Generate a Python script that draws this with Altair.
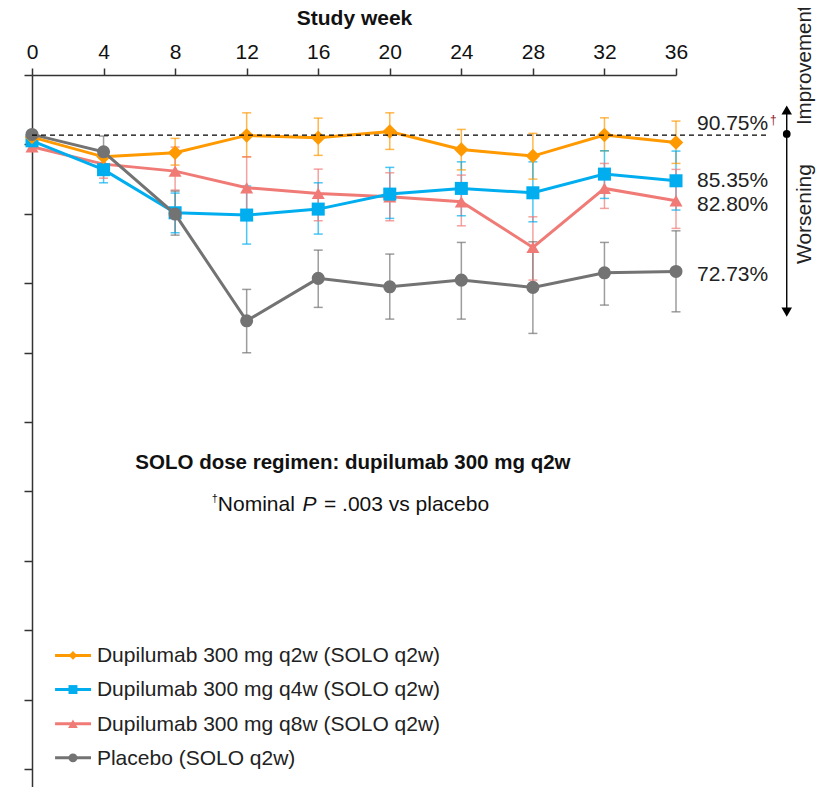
import altair as alt
import pandas as pd

FONT = "Liberation Sans, Arial, Helvetica, sans-serif"

weeks = [0, 4, 8, 12, 16, 20, 24, 28, 32, 36]
series_names = [
    "Dupilumab 300 mg q2w (SOLO q2w)",
    "Dupilumab 300 mg q4w (SOLO q2w)",
    "Dupilumab 300 mg q8w (SOLO q2w)",
    "Placebo (SOLO q2w)",
]
series_colors = ["#FF9900", "#00AEEF", "#F07B76", "#737373"]
series_shapes = ["diamond", "square", "triangle-up", "circle"]

q2w_mean = [91.05, 88.21, 88.79, 91.30, 90.95, 91.87, 89.28, 88.32, 91.34, 90.29]
q2w_hi = [None, 89.40, 90.87, 94.55, 93.79, 94.55, 92.16, 91.59, 93.83, 93.36]
q2w_lo = [None, 87.00, 87.02, 88.21, 88.42, 89.28, 86.33, 85.00, 89.08, 87.26]

q4w_mean = [90.52, 86.36, 80.15, 79.82, 80.68, 82.84, 83.66, 83.03, 85.72, 84.76]
q4w_hi = [None, 88.17, 82.99, 84.00, 84.47, 86.69, 87.49, 87.49, 89.08, 89.04]
q4w_lo = [None, 84.47, 77.27, 75.64, 77.08, 79.34, 79.72, 78.85, 82.22, 80.54]

q8w_mean = [89.66, 87.16, 86.15, 83.75, 82.94, 82.45, 81.73, 75.16, 83.66, 81.88]
q8w_hi = [None, 89.18, 89.61, 88.21, 86.44, 85.91, 85.58, 79.57, 87.26, 86.40]
q8w_lo = [None, 85.13, 83.42, 79.82, 79.00, 79.00, 78.27, 70.45, 80.78, 77.90]

pbo_mean = [91.44, 88.94, 79.96, 64.59, 70.70, 69.49, 70.45, 69.40, 71.50, 71.70]
pbo_hi = [None, 91.20, 83.27, 69.11, 74.77, 74.20, 75.88, 75.97, 75.88, 77.55]
pbo_lo = [None, 86.73, 76.93, 59.98, 66.52, 64.83, 64.83, 62.77, 66.85, 65.88]

end_labels = ["90.75%", "85.35%", "82.80%", "72.73%"]
end_label_shift = [1.77, -0.95, -1.45, -1.36]

means = [q2w_mean, q4w_mean, q8w_mean, pbo_mean]
his = [q2w_hi, q4w_hi, q8w_hi, pbo_hi]
los = [q2w_lo, q4w_lo, q8w_lo, pbo_lo]

rows = []
for name, m, h, l in zip(series_names, means, his, los):
    for w, mv, hv, lv in zip(weeks, m, h, l):
        rows.append({"series": name, "week": w, "value": mv, "hi": hv, "lo": lv})
df = pd.DataFrame(rows)
err_df = df.dropna(subset=["hi", "lo"])

FS = 21
color_scale = alt.Scale(domain=series_names, range=series_colors)
marker_sizes = {"diamond": 210, "square": 170, "triangle-up": 170, "circle": 170}

x_enc = alt.X(
    "week:Q",
    scale=alt.Scale(domain=[0, 36], nice=False, zero=False),
    axis=alt.Axis(
        orient="top", values=weeks, title="Study week", tickSize=7,
        labelPadding=6, titlePadding=13, grid=False, labelFlush=False,
        labelOverlap=False,
    ),
)
y_enc = alt.Y(
    "value:Q",
    scale=alt.Scale(domain=[-2.58, 100], nice=False, zero=False),
    axis=alt.Axis(values=list(range(0, 101, 10)), labels=False, title=None,
                  tickSize=8, grid=False),
)

layers = []

# error bars
layers.append(
    alt.Chart(err_df).mark_rule(strokeWidth=1.5, opacity=0.7).encode(
        x=x_enc, y=alt.Y("lo:Q"), y2="hi:Q",
        color=alt.Color("series:N", scale=color_scale, legend=None),
    )
)
for col in ["lo", "hi"]:
    layers.append(
        alt.Chart(err_df).mark_tick(orient="horizontal", size=9, thickness=1.5, opacity=0.7).encode(
            x="week:Q", y=alt.Y(f"{col}:Q"),
            color=alt.Color("series:N", scale=color_scale, legend=None),
        )
    )

# lines and points, drawn per series (placebo last, on top)
draw_order = [2, 1, 0, 3]
for i in draw_order:
    sdf = df[df["series"] == series_names[i]]
    layers.append(
        alt.Chart(sdf).mark_line(strokeWidth=3).encode(
            x="week:Q", y=y_enc,
            color=alt.Color("series:N", scale=color_scale, legend=None),
        )
    )
    layers.append(
        alt.Chart(sdf).mark_point(shape=series_shapes[i], filled=True, opacity=1,
                                  size=marker_sizes[series_shapes[i]]).encode(
            x="week:Q", y="value:Q",
            color=alt.Color("series:N", scale=color_scale, legend=None),
        )
    )

# legend, bottom left: line segment + marker + label per series
leg_top, leg_step = 16.38, 4.92
leg_df = pd.DataFrame({
    "series": series_names,
    "shape": series_shapes,
    "value": [leg_top - leg_step * i for i in range(len(series_names))],
})
leg_df["week"] = 1.29
leg_df["week2"] = 3.30
leg_df["wmark"] = 2.29
leg_df["wtext"] = 3.63
leg_df["vtext"] = leg_df["value"] - 1.0
layers.append(
    alt.Chart(leg_df).mark_rule(strokeWidth=3).encode(
        x="week:Q", x2="week2:Q", y="value:Q",
        color=alt.Color("series:N", scale=color_scale, legend=None),
    )
)
leg_marker_sizes = {"diamond": 75, "square": 80, "triangle-up": 95, "circle": 80}
for shp in series_shapes:
    layers.append(
        alt.Chart(leg_df[leg_df["shape"] == shp]).mark_point(
            shape=shp, filled=True, opacity=1, size=leg_marker_sizes[shp]).encode(
            x="wmark:Q", y="value:Q",
            color=alt.Color("series:N", scale=color_scale, legend=None),
        )
    )
layers.append(
    alt.Chart(leg_df).mark_text(align="left", baseline="alphabetic", font=FONT,
                                fontSize=FS, color="#222").encode(
        x="wtext:Q", y="vtext:Q", text="series:N")
)

# end-of-line value labels
last = [m[-1] for m in means]
lab_df = pd.DataFrame({
    "week": [36] * 4,
    "value": [v + s for v, s in zip(last, end_label_shift)],
    "text": end_labels,
})
layers.append(
    alt.Chart(lab_df).mark_text(align="left", baseline="alphabetic", dx=21, font=FONT,
                                fontSize=FS, color="#222").encode(
        x="week:Q", y="value:Q", text="text:N")
)
layers.append(
    alt.Chart(lab_df.iloc[[0]]).mark_text(align="left", baseline="alphabetic", dx=94, dy=-6,
                                          font=FONT, fontSize=12, color="#8B1E2B").encode(
        x="week:Q", y="value:Q", text=alt.value("†"))
)

# baseline dashed rule
base_df = pd.DataFrame({"week": [0], "week2": [41.14], "value": [91.34]})
layers.append(
    alt.Chart(base_df).mark_rule(strokeDash=[5, 4], color="black", strokeWidth=1.2).encode(
        x="week:Q", x2="week2:Q", y="value:Q")
)

# improvement / worsening arrow
arrow_df = pd.DataFrame({"week": [42.19], "value": [94.9], "value2": [65.9]})
layers.append(
    alt.Chart(arrow_df).mark_rule(color="black", strokeWidth=1.4).encode(
        x="week:Q", y="value:Q", y2="value2:Q")
)
layers.append(
    alt.Chart(pd.DataFrame({"week": [42.19], "value": [94.95]})).mark_point(
        shape="triangle-up", filled=True, size=110, color="black", opacity=1).encode(
        x="week:Q", y="value:Q")
)
layers.append(
    alt.Chart(pd.DataFrame({"week": [42.19], "value": [65.84]})).mark_point(
        shape="triangle-down", filled=True, size=110, color="black", opacity=1).encode(
        x="week:Q", y="value:Q")
)
layers.append(
    alt.Chart(pd.DataFrame({"week": [42.19], "value": [91.5]})).mark_point(
        shape="circle", filled=True, size=60, color="black", opacity=1).encode(
        x="week:Q", y="value:Q")
)
layers.append(
    alt.Chart(pd.DataFrame({"week": [43.55], "value": [92.78], "text": ["Improvement"]})).mark_text(
        angle=270, align="left", baseline="alphabetic", font=FONT, fontSize=20.5, color="#222").encode(
        x="week:Q", y="value:Q", text="text:N")
)
layers.append(
    alt.Chart(pd.DataFrame({"week": [43.55], "value": [79.97], "text": ["Worsening"]})).mark_text(
        angle=270, align="center", baseline="alphabetic", font=FONT, fontSize=FS, color="#222").encode(
        x="week:Q", y="value:Q", text="text:N")
)

# central annotations
layers.append(
    alt.Chart(pd.DataFrame({"week": [17.94], "value": [43.18],
                            "text": ["SOLO dose regimen: dupilumab 300 mg q2w"]})).mark_text(
        align="center", baseline="alphabetic", font=FONT, fontSize=20.5, fontWeight="bold",
        color="#111").encode(x="week:Q", y="value:Q", text="text:N")
)
note_df = pd.DataFrame({
    "week": [10.39, 15.12, 16.32],
    "value": [37.18, 37.18, 37.18],
    "text": ["Nominal", "P", "= .003 vs placebo"],
    "style": ["normal", "italic", "normal"],
})
layers.append(
    alt.Chart(note_df[note_df["style"] == "normal"]).mark_text(
        align="left", baseline="alphabetic", font=FONT, fontSize=21, color="#111").encode(
        x="week:Q", y="value:Q", text="text:N")
)
layers.append(
    alt.Chart(note_df[note_df["style"] == "italic"]).mark_text(
        align="left", baseline="alphabetic", font=FONT, fontSize=21, fontStyle="italic",
        color="#111").encode(x="week:Q", y="value:Q", text="text:N")
)
layers.append(
    alt.Chart(pd.DataFrame({"week": [10.05], "value": [38.5], "text": ["†"]})).mark_text(
        align="left", baseline="alphabetic", font=FONT, fontSize=11, color="#111").encode(
        x="week:Q", y="value:Q", text="text:N")
)

chart = alt.layer(*layers).properties(
    width=644, height=712,
    padding={"left": 24, "top": 67, "right": 140, "bottom": 0},
    autosize=alt.AutoSizeParams(type="none"),
).configure_view(stroke=None).configure_axis(
    domainColor="#333", tickColor="#333", domainWidth=1.5, tickWidth=1.5,
    labelFont=FONT, labelFontSize=FS, labelColor="#111",
    titleFont=FONT, titleFontSize=FS, titleFontWeight="bold", titleColor="#111",
)

chart.save("out.html", embed_options={"renderer": "svg", "actions": False})
